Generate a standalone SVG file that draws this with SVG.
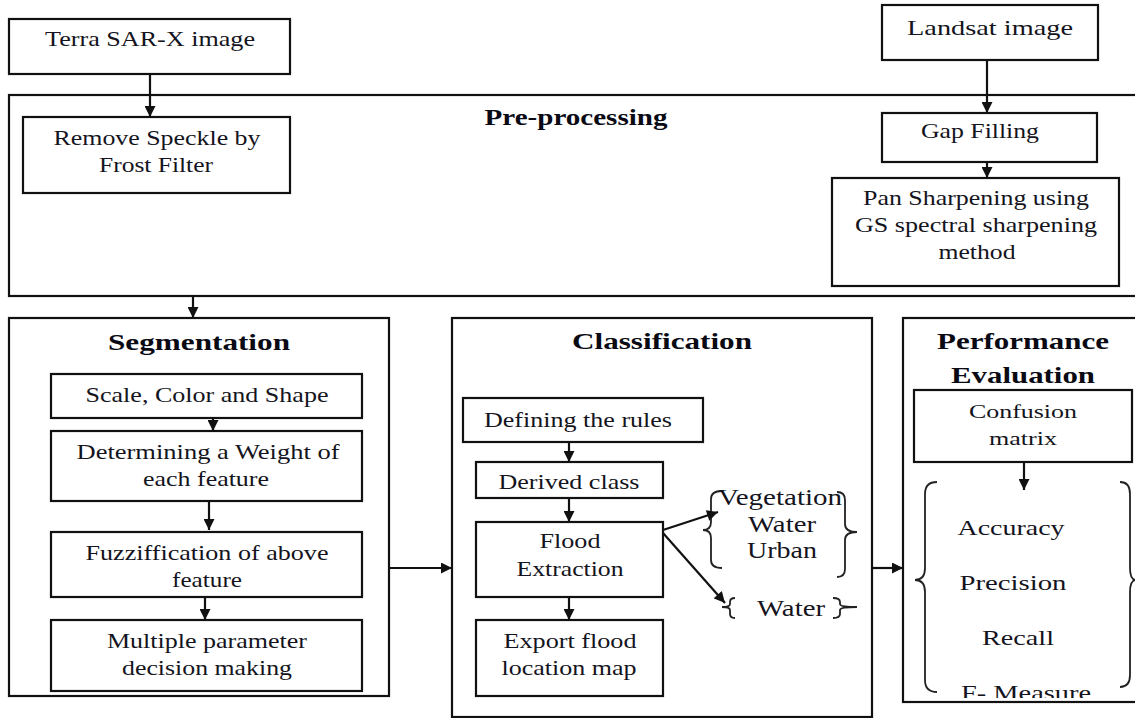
<svg xmlns="http://www.w3.org/2000/svg" width="1135" height="718" viewBox="0 0 1135 718">
<style>
  .box { fill: #ffffff; stroke: #111111; stroke-width: 2.2; }
  .frame { fill: none; stroke: #111111; stroke-width: 2.2; }
  text { font-family: 'Liberation Serif', 'DejaVu Serif', serif; }
  .t { font-size: 21px; fill: #141420; text-anchor: middle; }
  .h { font-size: 23px; font-weight: bold; fill: #0a0a14; text-anchor: middle; }
  .big { font-size: 23px; }
  .mid { font-size: 22px; }
  .sm { font-size: 19px; }
  .con { fill: none; stroke: #111111; stroke-width: 2.2; marker-end: url(#arr); }
  .brace { fill: none; stroke: #222222; stroke-width: 1.8; }
</style>
<defs>
  <marker id="arr" viewBox="0 0 12 12" refX="12" refY="6" markerWidth="12" markerHeight="11" markerUnits="userSpaceOnUse" orient="auto">
    <path d="M0,0 L12,6 L0,12 z" fill="#111111"/>
  </marker>
  <clipPath id="fclip"><rect x="900" y="600" width="240" height="98"/></clipPath>
</defs>
<rect width="1135" height="718" fill="#ffffff"/>

<g id="preprocessing">
  <rect class="frame" x="9" y="95" width="1135" height="201"/>
  <text class="h" x="576" y="125" textLength="183" lengthAdjust="spacingAndGlyphs">Pre-processing</text>
</g>
<g id="segmentation">
  <rect class="frame" x="9" y="318" width="380" height="378"/>
  <text class="h" x="199" y="350" textLength="182" lengthAdjust="spacingAndGlyphs">Segmentation</text>
</g>
<g id="classification">
  <rect class="frame" x="452" y="318" width="420" height="399"/>
  <text class="h" x="662" y="349" textLength="180" lengthAdjust="spacingAndGlyphs">Classification</text>
</g>
<g id="performance">
  <rect class="frame" x="903" y="318" width="240" height="384"/>
  <text class="h" x="1023" y="349" textLength="172" lengthAdjust="spacingAndGlyphs">Performance</text>
  <text class="h" x="1023" y="383" textLength="144" lengthAdjust="spacingAndGlyphs">Evaluation</text>
</g>

<g id="terra">
  <rect class="box" x="9" y="19" width="281" height="55"/>
  <text class="t" x="150" y="46" textLength="210" lengthAdjust="spacingAndGlyphs">Terra SAR-X image</text>
</g>
<g id="speckle">
  <rect class="box" x="23" y="117" width="267" height="76"/>
  <text class="t" x="157" y="145" textLength="207" lengthAdjust="spacingAndGlyphs">Remove Speckle by</text>
  <text class="t" x="156" y="172" textLength="114" lengthAdjust="spacingAndGlyphs">Frost Filter</text>
</g>
<g id="landsat">
  <rect class="box" x="882" y="5" width="216" height="55"/>
  <text class="t" x="990" y="35" textLength="166" lengthAdjust="spacingAndGlyphs">Landsat image</text>
</g>
<g id="gap">
  <rect class="box" x="882" y="113" width="215" height="49"/>
  <text class="t" x="980" y="138" textLength="118" lengthAdjust="spacingAndGlyphs">Gap Filling</text>
</g>
<g id="pan">
  <rect class="box" x="832" y="178" width="287" height="108"/>
  <text class="t" x="976" y="205" textLength="226" lengthAdjust="spacingAndGlyphs">Pan Sharpening using</text>
  <text class="t" x="976" y="232" textLength="242" lengthAdjust="spacingAndGlyphs">GS spectral sharpening</text>
  <text class="t" x="977" y="259" textLength="77" lengthAdjust="spacingAndGlyphs">method</text>
</g>

<g id="scale">
  <rect class="box" x="51" y="374" width="311" height="44"/>
  <text class="t" x="207" y="402" textLength="243" lengthAdjust="spacingAndGlyphs">Scale, Color and Shape</text>
</g>
<g id="weight">
  <rect class="box" x="51" y="431" width="311" height="70"/>
  <text class="t" x="208" y="459" textLength="263" lengthAdjust="spacingAndGlyphs">Determining a Weight of</text>
  <text class="t" x="206" y="486" textLength="126" lengthAdjust="spacingAndGlyphs">each feature</text>
</g>
<g id="fuzzy">
  <rect class="box" x="51" y="532" width="311" height="65"/>
  <text class="t" x="207" y="560" textLength="243" lengthAdjust="spacingAndGlyphs">Fuzziffication of above</text>
  <text class="t" x="207" y="587" textLength="70" lengthAdjust="spacingAndGlyphs">feature</text>
</g>
<g id="multiple">
  <rect class="box" x="51" y="620" width="311" height="71"/>
  <text class="t" x="207" y="648" textLength="200" lengthAdjust="spacingAndGlyphs">Multiple parameter</text>
  <text class="t" x="207" y="675" textLength="170" lengthAdjust="spacingAndGlyphs">decision making</text>
</g>

<g id="rules">
  <rect class="box" x="463" y="398" width="240" height="44"/>
  <text class="t" x="578" y="427" textLength="188" lengthAdjust="spacingAndGlyphs">Defining the rules</text>
</g>
<g id="derived">
  <rect class="box" x="476" y="462" width="187" height="36"/>
  <text class="t" x="569" y="489" textLength="141" lengthAdjust="spacingAndGlyphs">Derived class</text>
</g>
<g id="flood">
  <rect class="box" x="476" y="522" width="187" height="75"/>
  <text class="t" x="570" y="548" textLength="61" lengthAdjust="spacingAndGlyphs">Flood</text>
  <text class="t" x="570" y="576" textLength="107" lengthAdjust="spacingAndGlyphs">Extraction</text>
</g>
<g id="export">
  <rect class="box" x="476" y="620" width="187" height="76"/>
  <text class="t" x="570" y="648" textLength="133" lengthAdjust="spacingAndGlyphs">Export flood</text>
  <text class="t" x="569" y="675" textLength="135" lengthAdjust="spacingAndGlyphs">location map</text>
</g>

<g id="classes">
  <path class="brace" d="M722,491 Q711,491 711,499 L711,522 Q711,530 703,530 Q711,530 711,538 L711,560 Q711,568 722,568"/>
  <path class="brace" d="M837,492 Q845,492 845,500 L845,524 Q845,532 857,532 Q845,532 845,540 L845,569 Q845,577 837,577"/>
  <text class="t big" x="780" y="505" textLength="124" lengthAdjust="spacingAndGlyphs">Vegetation</text>
  <text class="t big" x="782" y="532" textLength="68" lengthAdjust="spacingAndGlyphs">Water</text>
  <text class="t big" x="782" y="558" textLength="70" lengthAdjust="spacingAndGlyphs">Urban</text>
</g>
<g id="water">
  <path class="brace" d="M735,598 Q730,598 730,602 L730,604 Q730,607 722,607 Q730,607 730,610 L730,614 Q730,618 735,618"/>
  <path class="brace" d="M833,598 Q840,598 840,602 L840,604 Q840,607 857,607 Q840,607 840,610 L840,614 Q840,618 833,618"/>
  <text class="t big" x="791" y="616" textLength="68" lengthAdjust="spacingAndGlyphs">Water</text>
</g>

<g id="confusion">
  <rect class="box" x="914" y="390" width="218" height="72"/>
  <text class="t sm" x="1023" y="418" textLength="108" lengthAdjust="spacingAndGlyphs">Confusion</text>
  <text class="t sm" x="1023" y="445" textLength="68" lengthAdjust="spacingAndGlyphs">matrix</text>
</g>
<g id="metrics">
  <path class="brace" d="M937,482 Q925,482 925,494 L925,568 Q925,580 915,580 Q925,580 925,592 L925,680 Q925,692 937,692"/>
  <path class="brace" d="M1120,482 Q1130,482 1130,494 L1130,568 Q1130,580 1136,580 Q1130,580 1130,592 L1130,675 Q1130,687 1120,687"/>
  <text class="t mid" x="1011" y="535" textLength="107" lengthAdjust="spacingAndGlyphs">Accuracy</text>
  <text class="t mid" x="1013" y="590" textLength="107" lengthAdjust="spacingAndGlyphs">Precision</text>
  <text class="t mid" x="1018" y="645" textLength="72" lengthAdjust="spacingAndGlyphs">Recall</text>
  <text class="t mid" x="1026" y="700" textLength="130" lengthAdjust="spacingAndGlyphs" clip-path="url(#fclip)">F- Measure</text>
</g>

<g id="connectors">
  <line class="con" x1="150" y1="74" x2="150" y2="117"/>
  <line class="con" x1="987" y1="60" x2="987" y2="113"/>
  <line class="con" x1="987" y1="162" x2="987" y2="178"/>
  <line class="con" x1="193" y1="296" x2="193" y2="318"/>
  <line class="con" x1="213" y1="418" x2="213" y2="431"/>
  <line class="con" x1="209" y1="501" x2="209" y2="530"/>
  <line class="con" x1="205" y1="597" x2="205" y2="620"/>
  <line class="con" x1="569" y1="442" x2="569" y2="462"/>
  <line class="con" x1="569" y1="498" x2="569" y2="522"/>
  <line class="con" x1="569" y1="597" x2="569" y2="620"/>
  <line class="con" x1="389" y1="568" x2="452" y2="568"/>
  <line class="con" x1="872" y1="568" x2="903" y2="568"/>
  <line class="con" x1="1024" y1="462" x2="1024" y2="490"/>
  <line class="con" x1="663" y1="530" x2="718" y2="512"/>
  <line class="con" x1="663" y1="533" x2="725" y2="603"/>
</g>
</svg>
